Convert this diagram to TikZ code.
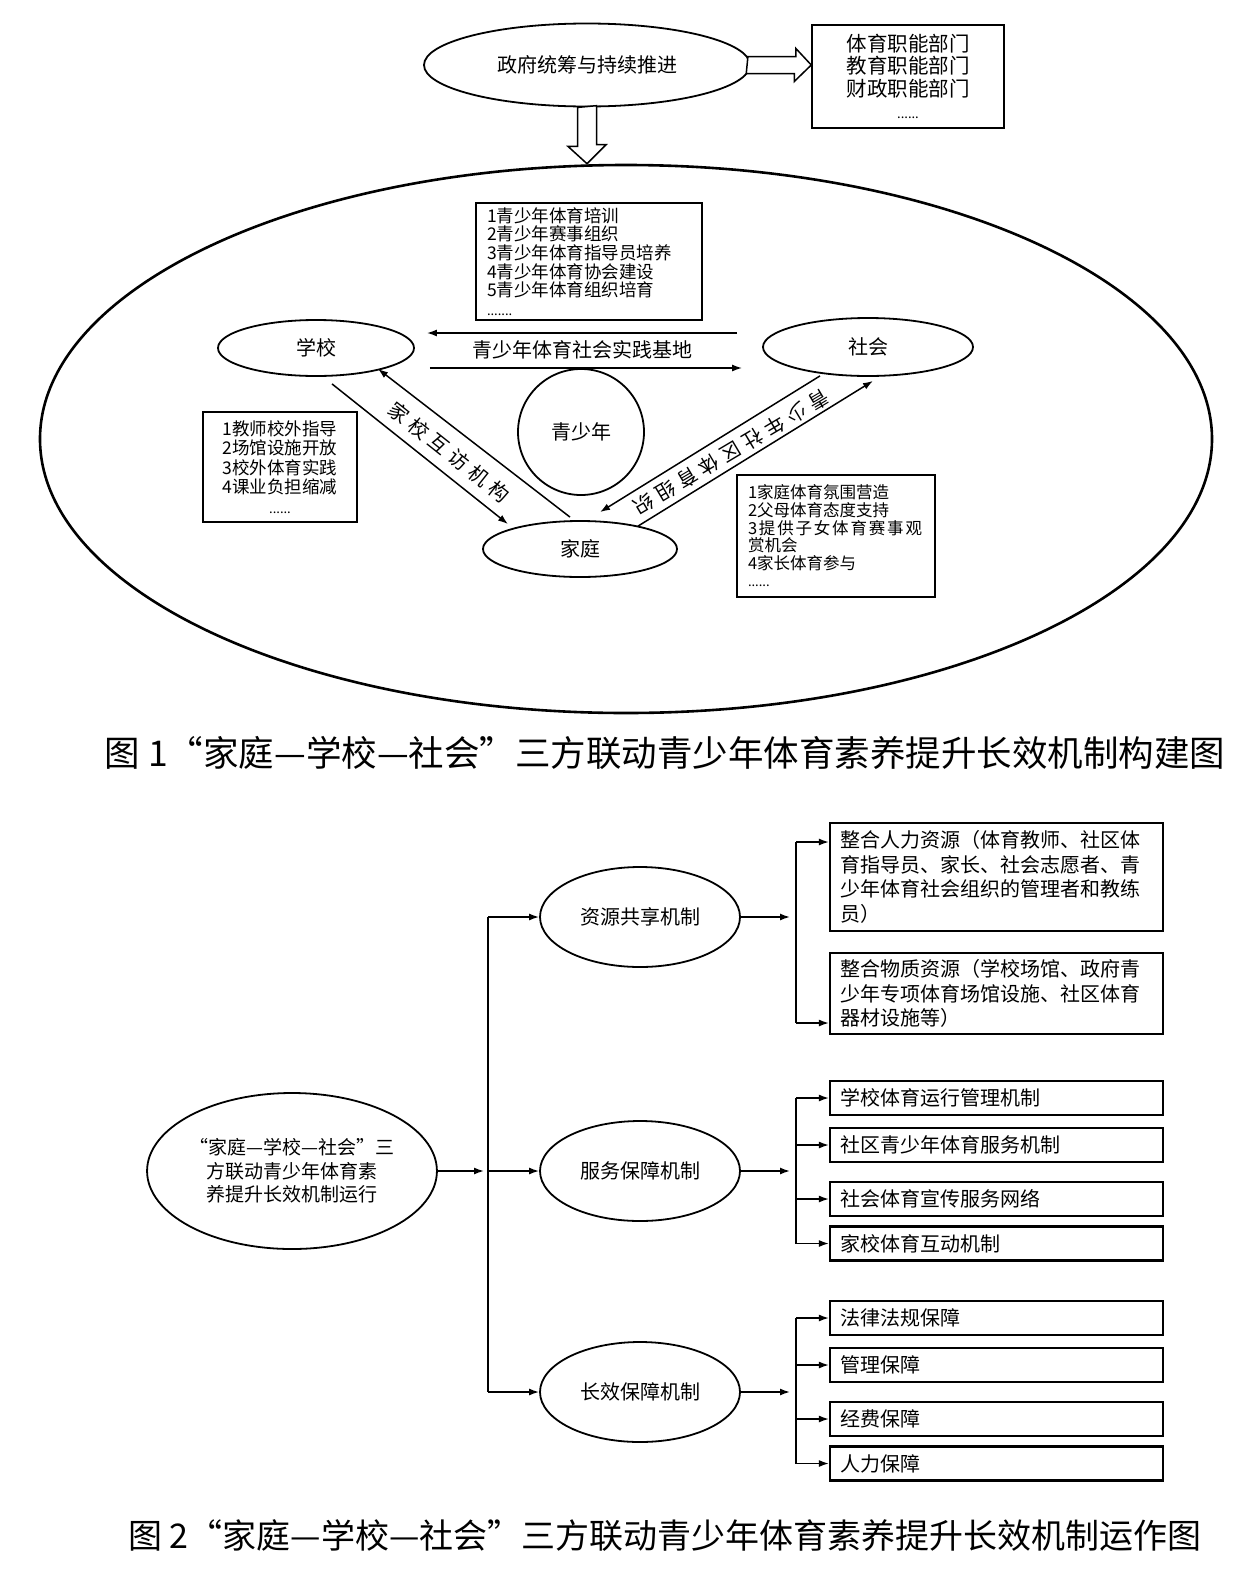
\documentclass[tikz,border=0pt]{standalone}
\usepackage{fontspec}
\setmainfont{Noto Sans CJK SC}
\newfontfamily\spreadfont{Noto Sans CJK SC}[LetterSpace=27]
\newfontfamily\wideline{Noto Sans CJK SC}[LetterSpace=11]
\usetikzlibrary{shapes.geometric,arrows.meta}

\begin{document}
\begin{tikzpicture}
  [
    x=1pt, y=-1pt,
    % estilos para no repetir codigo
    oval/.style={ellipse, draw, line width=1.8pt, inner sep=0pt, font=\fontsize{20}{22}\selectfont},
    box/.style={rectangle, draw, line width=1.5pt, inner sep=0pt},
    item/.style={rectangle, draw, line width=2.2pt, inner xsep=10pt, inner ysep=0pt, minimum width=333pt, minimum height=34pt, text width=313pt, align=left, font=\fontsize{20}{24.5}\selectfont},
    arr/.style={line width=1.5pt, -{Latex[length=10pt,width=7pt]}},
    trunk/.style={line width=1.5pt},
    hollow/.style={draw, line width=1.5pt, fill=white},
    caption/.style={font=\fontsize{35.5}{40}\selectfont}
  ]
  \useasboundingbox (0,0) rectangle (1252,1569);

  % figura 1
  \node[ellipse, draw, line width=2.6pt, minimum width=1172pt, minimum height=548pt] (arena) at (626,439) {};
  \node[oval, minimum width=326pt, minimum height=83pt] (gov) at (587,65) {政府统筹与持续推进};
  \node[box, minimum width=192pt, minimum height=103pt, align=center, font=\fontsize{20.5}{22.5}\selectfont] (dept) at (908,76.5) {体育职能部门\\教育职能部门\\财政职能部门\\{\fontsize{13}{14}\selectfont ......}};
  \draw[hollow] (gov.east) ++(-3,-8.5) -- ++(48,0) -- ++(0,-8) -- (gov.east -| dept.west) -- ++(-17,16.5) -- ++(0,-8) -- ++(-48,0) -- cycle;
  \draw[hollow] (gov.south) ++(-9.5,0) -- ++(0,39) -- ++(-9.5,0) -- (gov.south |- arena.north) -- ++(19,-19) -- ++(-9.5,0) -- ++(0,-39) -- cycle;

  \node[box, minimum width=226pt, minimum height=117pt, inner xsep=11pt, text width=204pt, align=left, font=\fontsize{17.5}{18.7}\selectfont] (club) at (589,261.5) {1青少年体育培训\\2青少年赛事组织\\3青少年体育指导员培养\\4青少年体育协会建设\\5青少年体育组织培育\\{\fontsize{13}{14}\selectfont .......}};

  \node[oval, minimum width=196pt, minimum height=56pt] (school) at (316,348) {学校};
  \node[oval, minimum width=210pt, minimum height=58pt] (society) at (868,347) {社会};
  \node[oval, minimum width=194pt, minimum height=56pt] (family) at (580,549) {家庭};
  \node[circle, draw, line width=1.8pt, minimum size=126pt, font=\fontsize{20}{22}\selectfont] (youth) at (581,432) {青少年};
  \node[font=\fontsize{20}{22}\selectfont] (base) at (582,350) {青少年体育社会实践基地};

  \node[box, minimum width=154pt, minimum height=110pt, align=center, font=\fontsize{17.5}{19.5}\selectfont] (schoolbox) at (280,467) {1教师校外指导\\2场馆设施开放\\3校外体育实践\\4课业负担缩减\\{\fontsize{13}{14}\selectfont ......}};
  \node[box, minimum width=198pt, minimum height=122pt, inner xsep=11pt, text width=176pt, align=left, font=\fontsize{16.5}{17.6}\selectfont] (familybox) at (836,536) {1家庭体育氛围营造\\2父母体育态度支持\\{\wideline 3提供子女体育赛事观}\\赏机会\\4家长体育参与\\{\fontsize{13}{14}\selectfont ......}};

  \node[font=\fontsize{20}{22}\selectfont\spreadfont, rotate=-38.5] (visit) at (449,452) {家校互访机构};
  \node[font=\fontsize{20}{22}\selectfont\spreadfont, rotate=210.7] (league) at (731,452) {青少年社区体育组织};

  \draw[arr] ([shift={(-25,-14)}]society.west) -- ([shift={(12,-15)}]school.east);
  \draw[arr] ([shift={(15,20)}]school.east) -- ([shift={(-20,21)}]society.west);
  \draw[arr] ([shift={(16,7)}]school.south) -- ([shift={(-72,4)}]family.north);
  \draw[arr] ([shift={(-10,-3)}]family.north) -- ([shift={(62,-8)}]school.south);
  \draw[arr] ([shift={(58,6)}]family.north) -- ([shift={(5,4)}]society.south);
  \draw[arr] ([shift={(-48,-1)}]society.south) -- ([shift={(20,-8)}]family.north);

  \node[caption] (title1) at (665,753) {图 1“家庭—学校—社会”三方联动青少年体育素养提升长效机制构建图};

  % figura 2
  \node[oval, minimum width=274pt, minimum height=156pt, align=center, font=\fontsize{19}{23.5}\selectfont] (run) at (292,1171) {“家庭—学校—社会”三\\方联动青少年体育素\\养提升长效机制运行};
  \node[oval, minimum width=200pt, minimum height=100pt] (share) at (640,917) {资源共享机制};
  \node[oval, minimum width=200pt, minimum height=100pt] (serve) at (640,1171) {服务保障机制};
  \node[oval, minimum width=200pt, minimum height=100pt] (keep) at (640,1392) {长效保障机制};

  \node[item, minimum height=108pt] (people) at (996.5,877) {整合人力资源（体育教师、社区体\\育指导员、家长、社会志愿者、青\\少年体育社会组织的管理者和教练\\员）};
  \node[item, minimum height=81pt] (goods) at (996.5,993.5) {整合物质资源（学校场馆、政府青\\少年专项体育场馆设施、社区体育\\器材设施等）};

  \node[item] (sch) at (996.5,1098) {学校体育运行管理机制};
  \node[item] (com) at (996.5,1145) {社区青少年体育服务机制};
  \node[item] (pub) at (996.5,1199) {社会体育宣传服务网络};
  \node[item] (home) at (996.5,1243.5) {家校体育互动机制};

  \node[item] (law) at (996.5,1318) {法律法规保障};
  \node[item] (manage) at (996.5,1365) {管理保障};
  \node[item] (fund) at (996.5,1419) {经费保障};
  \node[item] (staff) at (996.5,1463.5) {人力保障};

  \coordinate (fork) at (488,1171);
  \draw[arr] (run.east) -- ([xshift=-4pt]fork);
  \draw[trunk] (fork |- share) -- (fork |- keep);
  \draw[arr] (fork |- share) -- (share.west);
  \draw[arr] (fork) -- (serve.west);
  \draw[arr] (fork |- keep) -- (keep.west);

  \coordinate (t1) at (796,917);
  \coordinate (b1) at ([yshift=35pt]people.west);
  \coordinate (b2) at ([yshift=-29.5pt]goods.west);
  \draw[arr] (share.east) -- ([xshift=-6pt]t1);
  \draw[trunk] (t1 |- b1) -- (t1 |- b2);
  \draw[arr] (t1 |- b1) -- (b1);
  \draw[arr] (t1 |- b2) -- (b2);

  \coordinate (t2) at (796,1171);
  \draw[arr] (serve.east) -- ([xshift=-6pt]t2);
  \draw[trunk] (t2 |- sch) -- (t2 |- home);
  \draw[arr] (t2 |- sch) -- (sch.west);
  \draw[arr] (t2 |- com) -- (com.west);
  \draw[arr] (t2 |- pub) -- (pub.west);
  \draw[arr] (t2 |- home) -- (home.west);

  \coordinate (t3) at (796,1392);
  \draw[arr] (keep.east) -- ([xshift=-6pt]t3);
  \draw[trunk] (t3 |- law) -- (t3 |- staff);
  \draw[arr] (t3 |- law) -- (law.west);
  \draw[arr] (t3 |- manage) -- (manage.west);
  \draw[arr] (t3 |- fund) -- (fund.west);
  \draw[arr] (t3 |- staff) -- (staff.west);

  \node[caption, font=\fontsize{34}{38}\selectfont] (title2) at (665,1536) {图 2“家庭—学校—社会”三方联动青少年体育素养提升长效机制运作图};
\end{tikzpicture}
\end{document}
